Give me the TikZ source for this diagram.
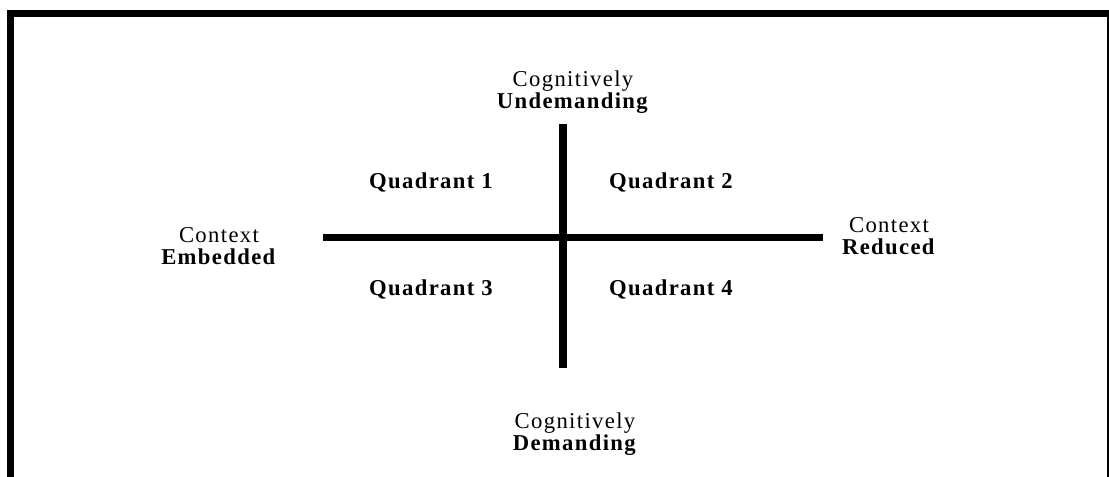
\documentclass[tikz,border=0pt]{standalone}
\usepackage{fontspec}
\setmainfont{Liberation Serif}
\usetikzlibrary{positioning}

\begin{document}
\begin{tikzpicture}[x=0.75pt, y=-0.75pt,
		lbl/.style={align=center, inner sep=0pt, font=\fontsize{17}{16.5}\selectfont\addfontfeature{LetterSpace=6}},
		quad/.style={anchor=base, inner sep=0pt, font=\fontsize{17}{16.5}\selectfont\bfseries\addfontfeature{LetterSpace=6}},
		axis/.style={line width=5.5pt}]
			\useasboundingbox (0,0) rectangle (1109,476);
			\draw[line width=5.25pt] (10.5,13) rectangle (1110.3,520);

			\coordinate (n) at (563,124);
			\coordinate (s) at (563,368);
			\coordinate (w) at (323,237.5);
			\coordinate (e) at (823,237.5);
			\draw[axis,line width=6pt] (n) -- (s);
			\draw[axis,line width=4.9pt] (w) -- (e);

			\node[quad] (q1) at (431,188) {Quadrant 1};
			\node[quad] (q2) at (671,188) {Quadrant 2};
			\node[quad] (q3) at (431,295) {Quadrant 3};
			\node[quad] (q4) at (671,295) {Quadrant 4};

			\node[lbl] (cu) at (573,92) {Cognitively\\\textbf{Undemanding}};
			\node[lbl] (cd) at (575,434) {Cognitively\\\textbf{Demanding}};
			\node[lbl] (ce) at (219,246) {Context\\\textbf{Embedded}};
			\node[lbl] (cr) at (889,236) {Context\\\textbf{Reduced}};
		\end{tikzpicture}
\end{document}
